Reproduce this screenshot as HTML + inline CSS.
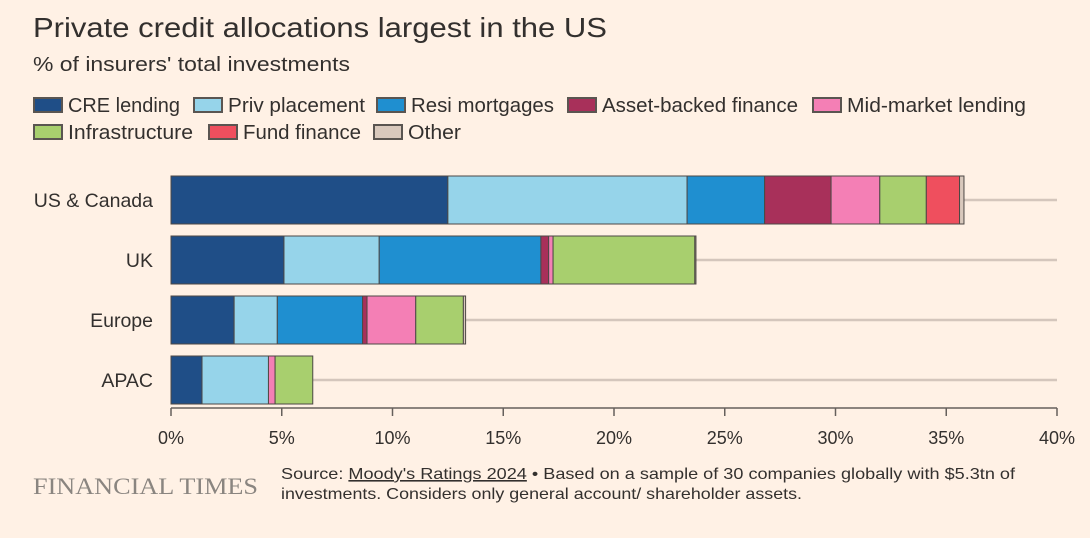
<!DOCTYPE html>
<html><head><meta charset="utf-8"><style>
body{margin:0;background:#fff1e5;width:1090px;height:533px;overflow:hidden;font-family:"Liberation Sans",sans-serif;}
</style></head><body>
<svg id="c" width="1090" height="533" xmlns="http://www.w3.org/2000/svg">
<text x="33" y="37" font-size="28" fill="#33302e" textLength="574" lengthAdjust="spacingAndGlyphs">Private credit allocations largest in the US</text>
<text x="33" y="71" font-size="20" fill="#33302e" textLength="317" lengthAdjust="spacingAndGlyphs">% of insurers' total investments</text>
<g id="legend"></g>
<g id="grid"></g><g id="bars"></g><g id="axis"></g>
<text x="33" y="494" font-size="23" fill="#8a8580" font-family="Liberation Serif, serif" textLength="225" lengthAdjust="spacingAndGlyphs">FINANCIAL TIMES</text>
<text x="281" y="479" font-size="16" fill="#33302e" textLength="734" lengthAdjust="spacingAndGlyphs">Source: <tspan text-decoration="underline">Moody's Ratings 2024</tspan> • Based on a sample of 30 companies globally with $5.3tn of</text>
<text x="281" y="499" font-size="16" fill="#33302e" textLength="521" lengthAdjust="spacingAndGlyphs">investments. Considers only general account/ shareholder assets.</text>
</svg>
<script>
const categories=["US & Canada","UK","Europe","APAC"];
const seriesNames=["CRE lending","Priv placement","Resi mortgages","Asset-backed finance","Mid-market lending","Infrastructure","Fund finance","Other"];
const creLending=[12.5,5.1,2.85,1.4];
const privPlacement=[10.8,4.3,1.95,3.0];
const resiMortgages=[3.5,7.3,3.85,0];
const assetBacked=[3.0,0.35,0.2,0];
const midMarket=[2.2,0.2,2.2,0.3];
const infrastructure=[2.1,6.4,2.15,1.7];
const fundFinance=[1.5,0,0,0];
const other=[0.2,0.05,0.1,0];
const ticks=[0,5,10,15,20,25,30,35,40];
const colors=["#1f4e87","#96d4ea","#1f8fd0","#a8305a","#f47fb5","#a8cf6e","#ef4f5e","#d9c9bd"];
const series=[creLending,privPlacement,resiMortgages,assetBacked,midMarket,infrastructure,fundFinance,other];
const NS="http://www.w3.org/2000/svg";
const x=v=>171+v*(1057-171)/40;
const yc=i=>200+i*60;
function mk(tag,attrs,parent){const e=document.createElementNS(NS,tag);for(const k in attrs)e.setAttribute(k,attrs[k]);parent.appendChild(e);return e;}
const lg=document.getElementById('legend');
const legPos=[[33,105,112],[193,105,137],[376,105,143],[567,105,196],[812,105,179],[33,132,125],[208,132,118],[373,132,53]];
seriesNames.forEach((n,i)=>{
 const g=mk('g',{},lg);
 
 
 const [lx,ly,lw]=legPos[i];
 mk('rect',{x:lx+1,y:ly-7,width:28,height:14,fill:colors[i],stroke:'#5a5551','stroke-width':2},g);
 const t=mk('text',{x:lx+35,y:ly+7,'font-size':20,fill:'#33302e',textLength:lw,lengthAdjust:'spacingAndGlyphs'},g);t.textContent=n;
});
const gr=document.getElementById('grid'),br=document.getElementById('bars'),ax=document.getElementById('axis');
categories.forEach((c,i)=>{
 const l=mk('line',{x1:171,x2:1057,y1:yc(i),y2:yc(i),stroke:'#d4c6bc','stroke-width':2.5},gr);
 
 
 const t=mk('text',{x:153,y:yc(i)+7,'font-size':19.5,fill:'#33302e','text-anchor':'end'},gr);
 
 
 t.textContent=c;
 let acc=0;
 series.forEach((s,j)=>{
  const v=s[i];if(v<=0)return;
  const r=mk('rect',{x:x(acc),y:yc(i)-24,width:x(acc+v)-x(acc),height:48,fill:colors[j],stroke:'#4d4845','stroke-width':1},br);
  
  
  acc+=v;
 });
});
const al=mk('line',{x1:171,x2:1057,y1:408,y2:408,stroke:'#66605c','stroke-width':1.5},ax);


ticks.forEach(t=>{
 mk('line',{x1:x(t),x2:x(t),y1:408,y2:416,stroke:'#66605c','stroke-width':1.5},ax);
 const tx=mk('text',{x:x(t),y:444,'font-size':18,fill:'#33302e','text-anchor':'middle'},ax);
 
 
 tx.textContent=t+'%';
});
</script>
</body></html>
